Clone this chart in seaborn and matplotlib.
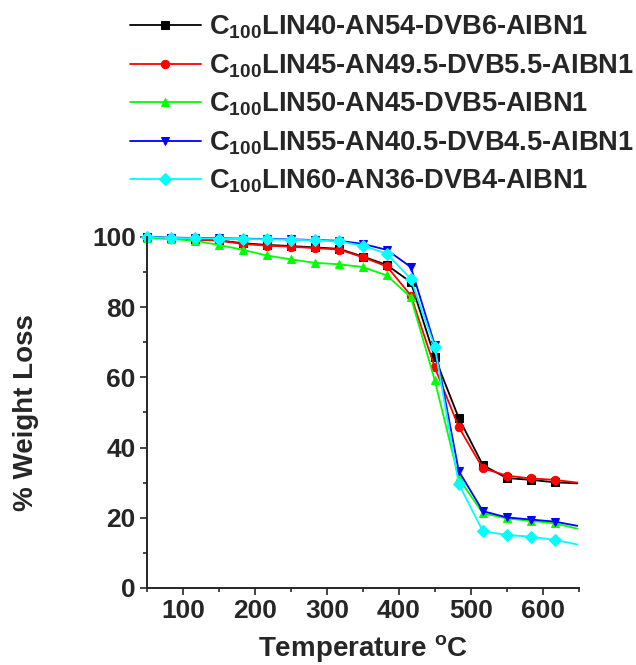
import seaborn as sns
import pandas as pd
import matplotlib.pyplot as plt
import matplotlib.ticker as ticker

# temperatures (deg C) where the curves were sampled; last point has no marker
temp = [50, 83.3, 116.7, 150, 183.3, 216.7, 250, 283.3, 316.7, 350,
        383.3, 416.7, 450, 483.3, 516.7, 550, 583.3, 616.7, 648]

lin40 = [100, 99.6, 99.3, 99.0, 98.2, 97.7, 97.4, 97.0, 96.6, 94.4,
         92.0, 87.1, 65.7, 48.4, 35.0, 31.3, 30.8, 30.1, 29.8]
lin45 = [100, 99.6, 99.3, 98.9, 98.0, 97.5, 97.2, 96.8, 96.4, 94.2,
         91.6, 83.3, 62.8, 45.8, 34.1, 32.0, 31.2, 30.8, 30.0]
lin50 = [99.6, 99.4, 98.9, 97.7, 96.3, 94.7, 93.6, 92.6, 92.2, 91.4,
         89.0, 82.8, 59.1, 31.2, 21.3, 19.8, 19.1, 18.4, 16.9]
lin55 = [100, 99.8, 99.7, 99.6, 99.5, 99.4, 99.3, 99.1, 98.9, 98.0,
         96.3, 91.4, 69.2, 33.3, 21.9, 20.1, 19.5, 18.9, 17.7]
lin60 = [100, 99.7, 99.6, 99.5, 99.4, 99.3, 99.2, 99.0, 98.7, 97.5,
         95.2, 88.0, 68.6, 29.6, 16.2, 15.1, 14.6, 13.7, 12.4]

labels = [
    r"C$_{100}$LIN40-AN54-DVB6-AIBN1",
    r"C$_{100}$LIN45-AN49.5-DVB5.5-AIBN1",
    r"C$_{100}$LIN50-AN45-DVB5-AIBN1",
    r"C$_{100}$LIN55-AN40.5-DVB4.5-AIBN1",
    r"C$_{100}$LIN60-AN36-DVB4-AIBN1",
]
series = [lin40, lin45, lin50, lin55, lin60]
colors = ["black", "#ff0000", "#00ff00", "#0000ff", "#00ffff"]
markers = ["s", "o", "^", "v", "D"]

sns.set_style("ticks")
plt.rcParams["font.family"] = ["Liberation Sans", "DejaVu Sans"]
plt.rcParams["font.weight"] = "bold"
plt.rcParams["mathtext.fontset"] = "custom"
plt.rcParams["mathtext.rm"] = "Liberation Sans:bold"
plt.rcParams["mathtext.it"] = "Liberation Sans:bold"
plt.rcParams["mathtext.bf"] = "Liberation Sans:bold"

fig = plt.figure(figsize=(6.36, 6.65), dpi=100)
ax = fig.add_axes([0.231, 0.1158, 0.679, 0.528])

for vals, lab, col, mk in zip(series, labels, colors, markers):
    df = pd.DataFrame({"T": temp, "W": vals})
    sns.lineplot(data=df, x="T", y="W", color=col, marker=mk, markersize=6,
                 markeredgecolor=col, linewidth=1.3, label=lab,
                 markevery=list(range(len(temp) - 1)), clip_on=False, ax=ax)

ax.set_xlim(50, 650)
ax.set_ylim(0, 100)
ax.xaxis.set_major_locator(ticker.MultipleLocator(100))
ax.xaxis.set_minor_locator(ticker.MultipleLocator(50))
ax.yaxis.set_major_locator(ticker.MultipleLocator(20))
ax.yaxis.set_minor_locator(ticker.MultipleLocator(10))
ax.xaxis.set_major_formatter(ticker.FuncFormatter(lambda v, p: f"{v:.0f}" if v >= 100 else ""))
ax.tick_params(which="major", length=5, width=1.2, labelsize=19, pad=3, direction="out")
ax.tick_params(which="minor", length=3, width=1.2, direction="out")
for s in ["left", "bottom"]:
    ax.spines[s].set_linewidth(1.4)
sns.despine(ax=ax)

ax.set_xlabel(r"Temperature $^{\mathrm{o}}$C", fontsize=20, fontweight="bold", labelpad=7)
ax.set_ylabel("% Weight Loss", fontsize=20, fontweight="bold", labelpad=38)

handles, labs = ax.get_legend_handles_labels()
ax.get_legend().remove()
fig.legend(handles, labs, loc="upper left", bbox_to_anchor=(0.2044, 0.979),
           frameon=False, fontsize=19.6, handlelength=2.6, handletextpad=0.3,
           labelspacing=0.4, borderaxespad=0, borderpad=0)

fig.savefig("out.png", dpi=100)
